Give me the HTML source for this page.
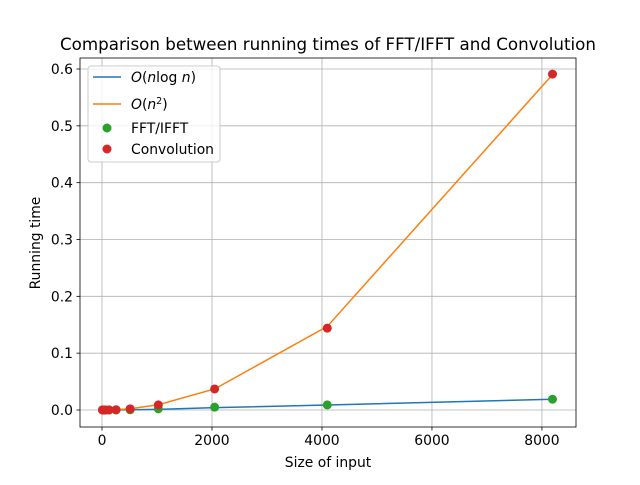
<!DOCTYPE html>
<html><head><meta charset="utf-8"><style>
body{margin:0;background:#fff;}
svg text{font-family:"DejaVu Sans","Liberation Sans",sans-serif;}
</style></head><body>
<svg id="chart" width="640" height="480" xmlns="http://www.w3.org/2000/svg">
<rect width="640" height="480" fill="#fff"/>
<g id="grid"></g><g id="lines"></g><g id="pts"></g><g id="axes"></g>
<text x="328" y="50" font-size="16.7" text-anchor="middle">Comparison between running times of FFT/IFFT and Convolution</text>
<text x="328" y="467" font-size="13.9" text-anchor="middle">Size of input</text>
<text x="0" y="0" font-size="13.9" text-anchor="middle" transform="translate(40,243) rotate(-90)">Running time</text>
<g>
<rect x="88" y="66" width="132" height="96" rx="3" fill="#fff" fill-opacity="0.8" stroke="#ccc"/>
<line x1="93" y1="77" x2="121" y2="77" stroke="#1f77b4" stroke-width="1.5"/>
<text x="131" y="82" font-size="13.9"><tspan font-style="italic">O</tspan>(<tspan font-style="italic">n</tspan>log<tspan font-style="italic"> n</tspan>)</text>
<line x1="93" y1="104" x2="121" y2="104" stroke="#ff7f0e" stroke-width="1.5"/>
<text x="131" y="109" font-size="13.9"><tspan font-style="italic">O</tspan>(<tspan font-style="italic">n</tspan><tspan font-size="9.5" dy="-5">2</tspan><tspan dy="5">)</tspan></text>
<circle cx="107" cy="128" r="4.5" fill="#2ca02c"/>
<text x="131" y="133" font-size="13.9">FFT/IFFT</text>
<circle cx="107" cy="149" r="4.5" fill="#d62728"/>
<text x="131" y="154" font-size="13.9">Convolution</text>
</g>
</svg>
<script>
const sizes=[8,16,32,64,128,256,512,1024,2048,4096,8192];
const nlognLine=[0.000003,0.000007,0.000017,0.00004,0.00009,0.0002,0.00045,0.0010,0.0041,0.0088,0.019];
const n2Line=[0.0000006,0.0000023,0.000009,0.000036,0.00014,0.0006,0.0023,0.0092,0.037,0.147,0.59];
const fftTimes=[0.0001,0.0001,0.0001,0.0001,0.0001,0.0002,0.0004,0.002,0.005,0.009,0.019];
const convTimes=[0.0001,0.0001,0.0001,0.0001,0.0002,0.0004,0.002,0.009,0.037,0.144,0.591];
const xTicks=[0,2000,4000,6000,8000];
const yTicks=[0.0,0.1,0.2,0.3,0.4,0.5,0.6];
const L=80,R=576,T=58,B=427;
const sx=v=>102+v*(552.5-102)/8192;
const sy=v=>410-v*(410-69)/0.6;
const NS="http://www.w3.org/2000/svg";
function mk(p,t,a){const e=document.createElementNS(NS,t);for(const k in a)e.setAttribute(k,a[k]);p.appendChild(e);return e;}
const grid=document.getElementById('grid'),axes=document.getElementById('axes'),lines=document.getElementById('lines'),pts=document.getElementById('pts');
xTicks.forEach(v=>{const x=sx(v);
const g=mk(grid,'line',{x1:x,x2:x,y1:T,y2:B,stroke:'#b0b0b0','stroke-width':0.8});


mk(axes,'line',{x1:x,x2:x,y1:B,y2:B+3.5,stroke:'#000','stroke-width':0.8});
const t=mk(axes,'text',{x:x,y:B+18,'font-size':13.9,'text-anchor':'middle'});t.textContent=v;

});
yTicks.forEach(v=>{const y=sy(v);
const g=mk(grid,'line',{x1:L,x2:R,y1:y,y2:y,stroke:'#b0b0b0','stroke-width':0.8});


mk(axes,'line',{x1:L-3.5,x2:L,y1:y,y2:y,stroke:'#000','stroke-width':0.8});
const t=mk(axes,'text',{x:L-7,y:y+5,'font-size':13.9,'text-anchor':'end'});t.textContent=v.toFixed(1);

});
const fr=mk(axes,'rect',{x:L,y:T,width:R-L,height:B-T,fill:'none',stroke:'#000','stroke-width':0.8});


function line(vals,c,name){const p=mk(lines,'polyline',{points:sizes.map((n,i)=>sx(n)+','+sy(vals[i])).join(' '),fill:'none',stroke:c,'stroke-width':1.5});

}
line(nlognLine,'#1f77b4','nlogn-line');line(n2Line,'#ff7f0e','n2-line');
function dots(vals,c,name){sizes.forEach((n,i)=>{const d=mk(pts,'circle',{cx:sx(n),cy:sy(vals[i]),r:4.5,fill:c});

});}
dots(fftTimes,'#2ca02c','fft-point');dots(convTimes,'#d62728','convolution-point');
</script>
</body></html>
